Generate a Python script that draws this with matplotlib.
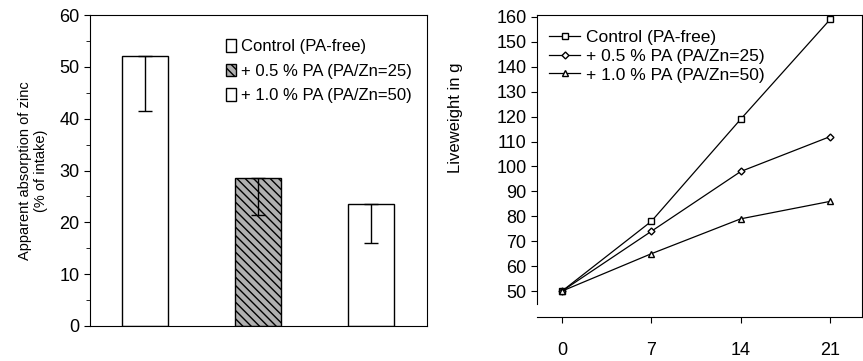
import matplotlib.pyplot as plt
from matplotlib.ticker import MultipleLocator

plt.rcParams['font.family'] = ['Liberation Sans', 'DejaVu Sans']

# left panel: apparent zinc absorption
groups = ["Control (PA-free)", "+ 0.5 % PA (PA/Zn=25)", "+ 1.0 % PA (PA/Zn=50)"]
absorption = [52.0, 28.5, 23.5]
absorption_err = [10.5, 7.0, 7.5]

# right panel: liveweight over time
days = [0, 7, 14, 21]
weight_control = [50, 78, 119, 159]
weight_05 = [50, 74, 98, 112]
weight_10 = [50, 65, 79, 86]

fig = plt.figure(figsize=(8.63, 3.61), dpi=100)

ax1 = fig.add_axes([90 / 863, 1 - 326 / 361, 337 / 863, 311 / 361])
xpos = [1, 2, 3]
hatches = [None, '\\\\\\\\', None]
faces = ['white', '#b0b0b0', 'white']
for x, v, e, h, fc, lab in zip(xpos, absorption, absorption_err, hatches, faces, groups):
    ax1.bar(x, v, width=0.4, color=fc, edgecolor='black', hatch=h, linewidth=1.0, label=lab)
    ax1.errorbar(x, v, yerr=[[e], [0]], fmt='none', ecolor='black', capsize=5, elinewidth=1)
ax1.set_xlim(0.513, 3.496)
ax1.set_ylim(0, 60)
ax1.set_xticks([])
ax1.yaxis.set_major_locator(MultipleLocator(10))
ax1.yaxis.set_minor_locator(MultipleLocator(5))
ax1.tick_params(axis='y', which='major', labelsize=13, direction='out', length=4)
ax1.tick_params(axis='y', which='minor', direction='out', length=3)
ax1.set_ylabel("Apparent absorption of zinc\n(% of intake)", fontsize=10.5, labelpad=8)
ax1.legend(loc='upper right', frameon=False, fontsize=12, handlelength=0.6,
           handleheight=0.8, handletextpad=0.3, labelspacing=0.55,
           bbox_to_anchor=(1.0, 0.97))

ax2 = fig.add_axes([537 / 863, 1 - 317 / 361, 325 / 863, 302 / 361])
ax2.plot(days, weight_control, color='black', lw=0.9, marker='s', ms=5, mfc='white', label="Control (PA-free)")
ax2.plot(days, weight_05, color='black', lw=0.9, marker='D', ms=3.5, mfc='white', label="+ 0.5 % PA (PA/Zn=25)")
ax2.plot(days, weight_10, color='black', lw=0.9, marker='^', ms=4, mfc='white', label="+ 1.0 % PA (PA/Zn=50)")
ax2.set_xlim(-1.96, 23.5)
ax2.set_ylim(39.6, 160.8)
ax2.set_xticks(days)
ax2.set_yticks(range(50, 161, 10))
ax2.spines['left'].set_bounds(45, 160.8)
ax2.tick_params(axis='both', labelsize=13, direction='out', length=4)
ax2.tick_params(axis='x', pad=14)
ax2.set_ylabel("Liveweight in g", fontsize=12)
ax2.yaxis.set_label_coords(-0.228, 0.66)
ax2.legend(loc='upper left', frameon=False, fontsize=12.5, handlelength=1.8,
           handletextpad=0.3, labelspacing=0.2, borderaxespad=0.3,
           bbox_to_anchor=(0.0, 0.99))

fig.savefig("out.png", dpi=100)
